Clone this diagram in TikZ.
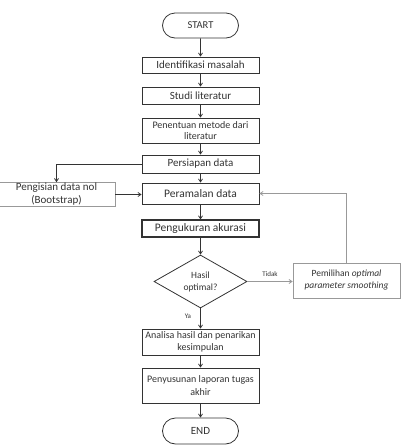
\documentclass[tikz,border=0pt]{standalone}
\usepackage{fontspec}
\setmainfont{Carlito}
\usetikzlibrary{shapes.geometric,shapes.misc,arrows.meta}
\definecolor{ink}{gray}{0.2}
\definecolor{lite}{gray}{0.6}
\tikzset{
  every node/.style={text=ink, font=\fontsize{11}{13}\selectfont},
  box/.style={draw=ink, line width=0.8pt, rectangle, inner sep=0pt, minimum width=117pt, align=center},
  sidebox/.style={draw=lite, line width=0.7pt, rectangle, inner sep=0pt, align=center},
  term/.style={draw=ink, line width=0.8pt, rounded rectangle, inner sep=0pt, minimum width=76pt},
  decide/.style={draw=ink, line width=0.8pt, diamond, inner sep=0pt, aspect=1.75, minimum width=93pt, minimum height=53pt, align=center},
  flow/.style={draw=ink, line width=0.8pt, -{Straight Barb[length=3pt,width=4pt]}},
  liteflow/.style={draw=lite, line width=0.8pt, -{Straight Barb[length=3pt,width=4pt]}},
  lbl/.style={font=\fontsize{7}{8}\selectfont, inner sep=1pt}
}
\begin{document}
\begin{tikzpicture}[x=1pt,y=-1pt]
\useasboundingbox (0,0) rectangle (406,448);
\node[term, minimum height=25pt, font=\fontsize{10.5}{12}\selectfont] (start) at (200.5,25.5) {START};
\node[box, minimum height=16pt] (ident) at (200.5,65) {Identifikasi masalah};
\node[box, minimum height=17pt] (studi) at (200.5,95.5) {Studi literatur};
\node[box, minimum height=25pt, font=\fontsize{10}{11}\selectfont] (tentu) at (200.5,130.5) {Penentuan metode dari\\literatur};
\node[box, minimum height=18pt] (siap) at (200.5,164) {Persiapan data};
\node[box, minimum height=21pt, font=\fontsize{11.5}{13}\selectfont] (ramal) at (200.5,193.5) {Peramalan data};
\node[sidebox, minimum width=117pt, minimum height=24pt] (isi) at (56.5,194.5) {Pengisian data nol\\(Bootstrap)};
\node[box, minimum height=17pt, line width=1.1pt, font=\fontsize{11.5}{13}\selectfont] (ukur) at (200.5,228.5) {Pengukuran akurasi};
\node[decide, font=\fontsize{9.5}{12}\selectfont] (hasil) at (200.5,281.5) {Hasil\\optimal?};
\node[sidebox, minimum width=107pt, minimum height=35pt, font=\fontsize{9.5}{12}\selectfont\itshape] (pilih) at (346.5,280.5) {{\upshape Pemilihan} optimal\\parameter smoothing};
\node[box, minimum height=26pt, font=\fontsize{10}{12}\selectfont] (analisa) at (200.5,342) {Analisa hasil dan penarikan\\kesimpulan};
\node[box, minimum height=35pt, font=\fontsize{10}{12.5}\selectfont] (susun) at (200.5,385.5) {Penyusunan laporan tugas\\akhir};
\node[term, minimum height=26pt, font=\fontsize{11}{13}\selectfont] (end) at (200.5,431) {END};

\draw[flow] (start) -- (ident);
\draw[flow] (ident) -- (studi);
\draw[flow] (studi) -- (tentu);
\draw[flow] (tentu) -- (siap);
\draw[flow] (siap) -- (ramal);
\draw[flow] (siap.west) -| (isi.north);
\draw[flow] (isi.east) -- (isi.east -| ramal.west);
\draw[flow] (ramal) -- (ukur);
\draw[flow] (ukur) -- (hasil);
\draw[liteflow] (hasil.east) -- (hasil.east -| pilih.west) node[lbl, midway, above=4pt] {Tidak};
\draw[liteflow] (pilih.north) |- (ramal.east);
\draw[flow] (hasil.south) -- (analisa.north) node[lbl, pos=0.4, left=8pt] {Ya};
\draw[flow] (analisa) -- (susun);
\draw[flow] (susun) -- (end);
\end{tikzpicture}
\end{document}
